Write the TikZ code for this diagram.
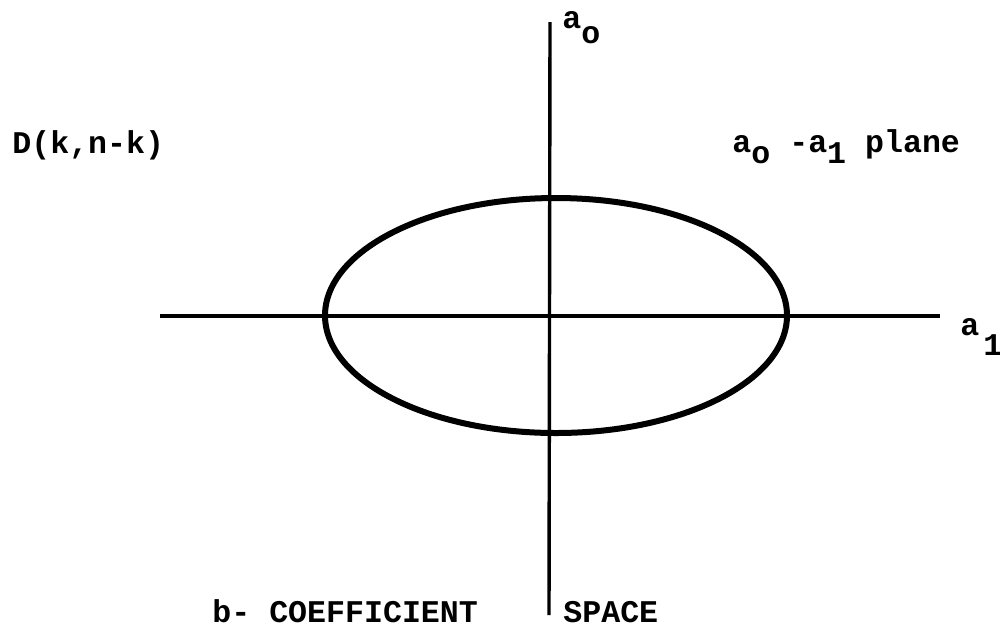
\documentclass[tikz,border=0pt]{standalone}
\usepackage{fontspec}
\setmainfont{Liberation Mono}[BoldFont={* Bold}]
\newcommand\lowr[2]{\raisebox{-#1}{#2}}
\begin{document}
\begin{tikzpicture}[x=0.5pt,y=-0.5pt,
  lbl/.style={inner sep=0pt,anchor=base west,font=\fontsize{15.8pt}{18pt}\selectfont\bfseries},
  axis/.style={line width=1.7pt},
  curve/.style={line width=3pt}]
\useasboundingbox (0,0) rectangle (1000,629);
\coordinate (vtop) at (550,22);
\coordinate (vbot) at (549,615);
\coordinate (hl) at (160,316);
\coordinate (hr) at (940,316);
\coordinate (c) at (556,315.5);
\draw[axis] (vtop) -- (vbot);
\draw[axis] (hl) -- (hr);
\draw[curve] (c) ellipse [x radius=231, y radius=117.5];
\node[lbl] (D) at (12,153) {D(k,n-k)};
\node[lbl] (plane) at (732,152) {a\lowr{5.5pt}{o} -a\lowr{5.5pt}{1} plane};
\node[lbl] (a0) at (562,28) {a\lowr{7.5pt}{o}};
\node[lbl] (a1) at (960,335) {a\lowr{10pt}{\kern2pt 1}};
\node[lbl] (coef) at (212,622) {b-  COEFFICIENT};
\node[lbl] (space) at (563,622) {SPACE};
\end{tikzpicture}
\end{document}
